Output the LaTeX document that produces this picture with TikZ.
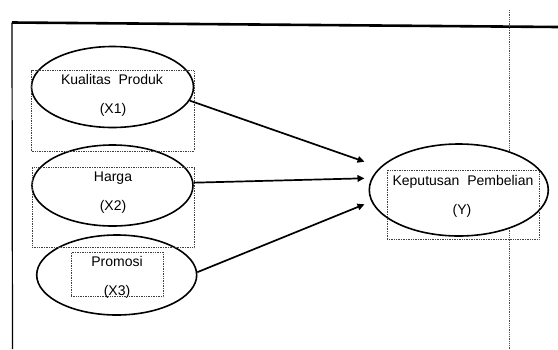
\documentclass[tikz,border=0pt]{standalone}
\usepackage{fontspec}
\setmainfont{Liberation Sans}
\usetikzlibrary{shapes.geometric,arrows.meta}
\begin{document}
\begin{tikzpicture}[x=1pt,y=-1pt,
  oval/.style={ellipse,draw=black,fill=white,line width=1.6pt,inner sep=0pt},
  tbox/.style={draw=black!75,densely dotted,line width=0.7pt,inner sep=0pt},
  lbl/.style={anchor=base,inner sep=0pt,font=\fontsize{14}{16}\selectfont},
  link/.style={line width=1.7pt,-{Triangle[length=7pt,width=6.5pt]}}]
\useasboundingbox (0,0) rectangle (558,349);
% frame lines
\coordinate (tl) at (12,22.5);
\coordinate (tr) at (558,27);
\coordinate (bl) at (12.5,349);
\coordinate (vt) at (509,10);
\coordinate (vb) at (509,349);
\draw[line width=2.6pt] (tl) -- (tr);
\draw[line width=1.2pt] (tl) -- (bl);
\draw[black!70,densely dotted,line width=0.8pt] (vt) -- (vb);
% ovals
\node[oval,minimum width=162pt,minimum height=81pt] (e1) at (112.5,87) {};
\node[oval,minimum width=161pt,minimum height=81pt] (e2) at (112.5,185.5) {};
\node[oval,minimum width=160pt,minimum height=80pt] (e3) at (116.7,275) {};
\node[oval,minimum width=179pt,minimum height=92pt] (ey) at (458.8,190) {};
% text boxes
\node[tbox,minimum width=162.3pt,minimum height=80.3pt] (r1) at (112.85,110.85) {};
\node[tbox,minimum width=162pt,minimum height=80pt] (r2) at (113,207.7) {};
\node[tbox,minimum width=92.3pt,minimum height=44.4pt] (r3) at (117.15,274.5) {};
\node[tbox,minimum width=151.7pt,minimum height=69pt] (ry) at (463.15,204.5) {};
% labels
\node[lbl] (t1a) at (112,84) {Kualitas\ \ Produk};
\node[lbl] (t1b) at (113,113) {(X1)};
\node[lbl] (t2a) at (113,181.7) {Harga};
\node[lbl] (t2b) at (113,210.7) {(X2)};
\node[lbl] (t3a) at (117,266) {Promosi};
\node[lbl] (t3b) at (117,295) {(X3)};
\node[lbl] (tya) at (463,185) {Keputusan\ \ Pembelian};
\node[lbl] (tyb) at (462,214.3) {(Y)};
% arrows
\coordinate (a1) at (364.5,161.7);
\coordinate (a2) at (364.5,178.3);
\coordinate (a3) at (364.5,204.3);
\draw[link] (e1.-10) -- (a1);
\draw[link] (e2.2) -- (a2);
\draw[link] (e3.2) -- (a3);
\end{tikzpicture}
\end{document}
